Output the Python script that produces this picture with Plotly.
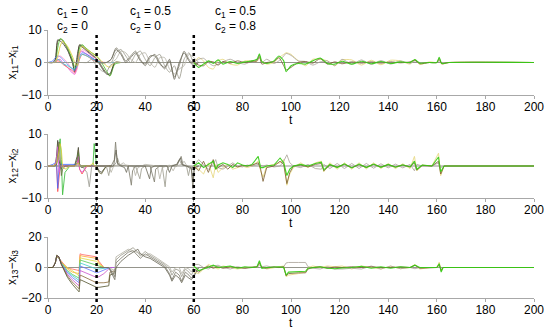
import plotly.graph_objects as go

# ---------------- data ----------------
ZERO_T = [0, 200]
ZERO_Y = [0, 0]

# panel 1 : x11 - xi1
P1A_T = [0, 2, 3, 4, 5, 6, 8, 10, 11, 12, 13, 14, 16, 18, 20, 22, 24, 25.5, 27.5, 30]
P1A_Y = [
    [0, 0, 0.5, 6.5, 7.2, 6.8, 4.2, 0.5, -2.5, 0.5, 5.5, 5.2, 3.8, 2.5, 1.3, -1, -3.2, -4, 0, 0],
    [0, 0, 0.3, 4.5, 7.3, 7, 4.6, 1, -1.5, -0.5, 4.5, 5.5, 4.2, 3, 2, 0, -2.5, -4.2, -0.5, 0],
    [0, 0, 1, 7, 6.6, 6, 3.8, 0, -3, 2, 5.3, 4.8, 3.5, 2.2, 1, -1.5, -3.5, -3.5, 0, 0],
    [0, 0, 0.2, 0.8, 1, 0, -1.5, -3.2, -3.6, -1, 3, 3.5, 2.5, 1.5, 0.5, 0, 0, 0, 0, 0],
    [0, 0.5, 1.5, 2, 1.8, 1, -0.5, -2, -2.5, -1, 2, 3, 2.5, 1.5, 0.5, 0, 0, 0, 0, 0],
    [0, 0, 0.2, 0.5, 0.3, -0.5, -1.5, -2.5, -3, -1.5, 1, 2.5, 2, 1, 0.3, 0, 0, 0, 0, 0],
    [0, 0, 0.5, 1.5, 2, 1.5, 0, -2.5, -3.7, -2, 2.5, 4, 3.2, 2, 1, 0.2, 0, 0, 0, 0],
    [0, 0, 0.3, 1, 0.5, -0.3, -1, -1.8, -2, -1, 1.5, 2.5, 2, 1.2, 0.5, 0, 0, 0, 0, 0],
    [0, 0, 0, 2, 5, 6.5, 5, 2, 0, -1, 3, 5, 4, 3, 1.8, 0.5, -1, -1.5, 0, 0],
    [0, 0, 0, 0, 0, 0, 0, 0, 0, 0, 0, 0, 0, 1, -1, -2.5, -3, -1, 0, 0],
]
P1B_T = [20, 24, 26, 28, 30, 32, 34, 36, 38, 40, 42, 44, 46, 48, 50, 52, 54, 56, 58, 60, 62]
P1B_Y = [
    [0, 0, 1, 4.5, 3, 0.5, 2, 3.5, 1, -1, 1.5, 2.5, 0, -2, 0.5, -4.5, -1, 3.5, 1, -0.5, 0],
    [0, 0, 0, 3, 4, 2, 0, 2.5, 3.5, 1, -1, 1.5, 2.5, -1, -3, -1, -5, 1, 3, 0, 0],
    [0, 0, 0, 1, 3.5, 3, 1, 0, 2.5, 3, 0, -1.5, 1.5, 1.5, -2, -3.5, -2, -1, 2.5, 1.5, 0],
    [0, 0, 1, 4, 2.5, 0, 1.5, 3, 0.5, -0.5, 2, 2, -0.5, -1.5, 1, -5.2, 0, 3, 0.5, -1, 0],
]
P1C_T = [60, 62, 64, 66, 68, 70, 72, 75, 78, 81, 84, 86, 87, 88, 90, 93, 95, 97, 98, 100,
         103, 106, 109, 112, 115, 118, 121, 125, 129, 133, 137, 141, 145, 149, 151, 153,
         157, 160, 161, 162, 165, 200]
P1C_Y = [
    [0, 1.5, 0.5, -1.5, -2, 0.5, 1, -0.5, -0.8, 0.5, 0.5, 0.3, 1.5, 0.5, -0.5, 0, 1.5, 2.5, 3, 2.5,
     0.5, -1, 1, 1, 0.5, -1, 0.8, 0.8, -0.8, 0.7, -0.7, 0.7, 0.5, -0.5, 1, -0.6, 0.2, 0, 0.8, -0.5, 0, 0],
    [0, 1, 1.3, 0, -1, -0.5, 0.2, 1, 0, -0.5, 0.5, 0.8, 1.5, 0, 1, -0.3, 0.5, 2, 2.8, 2.2,
     0.5, 0.3, -0.8, 0.2, 0.5, -1, 1, -0.5, 0.8, -0.6, 0.6, -0.5, 0.5, -0.3, 0.5, 0, 0, 0, 0.5, 0, 0, 0],
    [0, -0.8, -1, 0.3, 0.2, -0.8, 0.3, -0.2, 0.5, 0, 0.3, 0.5, 2.2, -0.5, 0, 0.3, 1.5, -1, -2.3, -1.5,
     0, 0.3, -0.2, 1.2, -0.5, 0.2, -0.4, 0.2, -0.2, 0.2, -0.2, 0.2, -0.1, 0.2, 0.7, -0.4, 0, 0, 1.2, -0.4, 0, 0],
    [0, -1.5, -0.5, 0.5, -0.3, 0.8, -0.5, 0.3, -0.3, 0.2, 0.5, 1, 2.7, 0.3, -0.3, 0.5, 2, 0.5, -2.8, -1,
     -0.3, -0.5, 0.5, 1.4, -0.3, -0.5, 0.4, -0.5, 0.4, -0.4, 0.3, -0.3, 0.2, 0, 0.9, -0.2, 0, 0, 1.6, -0.3, 0, 0],
]

# panel 2 : x12 - xi2
P2A_T = [0, 2, 3, 3.5, 4, 4.5, 5, 5.5, 6, 7, 9, 11, 12, 12.5, 13, 14, 16, 17, 18, 18.5, 19, 20, 21, 22, 24, 26]
P2A_Y = [
    [0, 0, 0.5, 3, 8, 2, 0, -1, 0, 0, 0, 0.3, 3, 5.8, 0, -0.5, 0, 0, 0, 0, 0, 0, -1.5, -2, 0, 0],
    [0, 0, 0, 1, 3, 6, 8.5, 2, -9, -2, 0, 0, 1, 4, 0, 0, 0, 0, 0, 0, 7, 0, 0, 0, 0, 0],
    [0, 0, 0.5, 1, -8, -3, 0, 0, 0, 0, 0, 0, 0.5, 2, -1, -2.5, 0, 0, 0, 0, 0, 0, 0, 0, 0, 0],
    [0, 0.5, 1, 1, -7, -1, 0.5, 0.5, 0.5, 0.5, 0.5, 0.5, 0.5, 1, 0.3, 0, 0, 0, 0, 0, 0, 0, 0, 0, 0, 0],
    [0, 0, 0.5, 2, 6, -2, -1, 0, 0, 0, 0, 0, 0.5, 3, -1, -2, 0, 0, 0, 0, 0, 0, 0, 0, 0, 0],
    [0, 0, 0, 0.5, 2, 7.5, 3, -3, -1, 0, 0, 0, 2, 5, 0.5, 0, 0, 0, 0, 0, 0, 0, -2, -2.5, 0, 0],
    [0, 0, 0.5, 1, 2, 5, 7, 5, 0, -1, 0, 0, 0.5, 1, 0, 0, 0, 0, 0.5, 1, 0, 0, 0, 0, 0, 0],
    [0, 0, 0, 0, 0, 0, 0, 0, 0, 0, 0, 0, 0, 0, 0, 0, -2, -6.5, 0, 0, 0, 0, 0, 0, 0, 0],
]
P2B_T = [
    [20, 26, 27.3, 27.8, 28.5, 30, 33, 34.3, 34.8, 36, 42, 43.8, 44.3, 46, 53, 54.8, 55.5, 57, 59, 59.6, 60.2, 62],
    [20, 24, 25, 25.6, 27, 28, 28.6, 29.5, 36, 37.8, 38.5, 40, 47, 48.2, 48.8, 50, 53, 54, 55, 57, 57.8, 58.5, 60, 62],
    [20, 25, 26, 27, 30, 31, 32, 35, 36, 37, 40, 45, 46, 47, 50, 51.5, 52.5, 55, 56, 57, 60, 62],
    [20, 27, 28, 28.7, 30, 31.5, 32.3, 33, 40, 41.8, 42.5, 44, 49, 50, 51, 53, 54.5, 55.3, 57, 59, 59.6, 60.2, 62],
]
P2B_Y = [
    [0, 0, 2, 7.5, 1, 0.2, 0, -6, -1.5, 0, 0, -5, -1, 0, 0, 3, 0.5, 0, -1, -7, -1, 0],
    [0, 0, -3, -0.5, 0, 1, 2.5, 0.3, 0, -4, -0.8, 0, 0, -6.5, -1.5, 0, 0.5, 2, 0.5, 0, -3, -0.5, 0, 0],
    [0, 0, -2, 0, 0.5, 1, 0.3, 0, -3, -0.5, 0.5, 0, -4, -0.5, 0.3, -1.5, 0, 0.5, 1.5, 0.2, -0.5, 0],
    [0, 0, 5, 0.5, 0, -0.5, -2, 0, 0, -4, -0.5, 0, 0, -2, 0, 0.5, 2.5, 0.3, 0, -0.5, -5, -0.5, 0],
]
P2C_T = [60, 62, 64, 66, 68, 69, 70, 72, 74, 76, 78, 80, 82, 84, 86.5, 87.5, 88.5, 90, 93, 95.5,
         97, 98.3, 99.5, 101, 104, 107, 110, 112.5, 113.5, 116, 119, 122, 125, 128, 131, 134, 137,
         140, 143, 146, 149, 150.8, 151.8, 154, 158, 160.7, 161.6, 163, 165, 200]
P2C_Y = [
    [0, -1, -2.5, 1, -3.7, 0.5, -2, -0.5, 0.5, -1, -0.5, 0, -0.5, 0, 1.5, -1.5, -3.5, 0, 0.5, 1,
     2, -6, -2.5, -0.5, 1, -0.5, 1, 1.5, -1.8, 1, -1, 1, -1, 1, -0.9, 1, -0.8, 0.8, -0.8, 0.7,
     -0.8, 3, -1.5, 0.3, 0, 4, -3, 0, 0, 0],
    [0, 2, 0.5, -1, 0.5, 2, -0.5, -1, 0, 1, 0, -0.3, 0.3, 0, 0.5, 0.3, 0, 0.3, -0.3, 0,
     1.5, 3.5, 1, 0, -0.5, 0.5, -0.8, -1, 0.5, -0.8, 0.8, -0.8, 0.8, -0.8, 0.8, -0.7, 0.7, -0.6, 0.6, -0.6,
     0.5, -1.5, 0.5, 0, 0, 1, -0.5, 0, 0, 0],
    [0, -1.5, 1.5, -2, 2, -1, -0.5, 0.5, -1, 0.5, -0.3, 0.2, 0, 0.3, 1, -1, -4.8, -0.5, 0, 1.5,
     0.5, -5.5, -2, 0, 0.3, -0.3, 0.5, 0.8, -1.5, 0.3, -0.3, 0.5, -0.5, 0.4, -0.4, 0.5, -0.3, 0.4, -0.3, 0.3,
     -0.3, 1, -1.3, 0.2, 0, 1.5, -2.5, 0, 0, 0],
    [0, 1, -0.5, 0.5, 1.5, -1, 0.3, 1, 0.5, -0.5, 1, 0.3, 0, 0.5, 3, -0.5, -0.5, 0, 0.3, 2.5,
     1, -3, -1, 0, 0.5, 0, 0.8, 1.2, -1.2, 0.5, -0.5, 0.7, -0.6, 0.6, -0.5, 0.6, -0.4, 0.5, -0.4, 0.4,
     -0.3, 1.5, -1, 0.3, 0, 2.8, -1.8, 0, 0, 0],
]

# panel 3 : x13 - xi3
P3A_T = [0, 2, 3, 3.6, 4.5, 5.5, 8, 10, 12.8, 13.2, 14, 20, 21, 23, 25, 25.5, 27, 28]
P3A_Y = [
    [0, 0, 3, 7, 6, 4, -0.5, -1, -2, 9, 8.5, 7, 4, 0, 0, 0, 0, 0],
    [0, 0, 3, 7, 6, 3.5, -1, -3, -4, 8, 7.5, 6, 3, 0, 0, 0, 0, 0],
    [0, 0, 3, 7, 6, 3, 0, -2, -5.5, 6.5, 6, 4, 2, 0, 0, 0, 0, 0],
    [0, 0, 3, 7.5, 6, 3, -2, -4.5, -7, 5, 4.5, 1.5, 0.5, 0, 0, 0, 0, 0],
    [0, 0, 3, 7.5, 6.5, 2.5, -3, -5.5, -8.5, 3, 2.5, -1, -1, -0.5, 0, 0, 0, 0],
    [0, 0, 3, 7.5, 6.5, 2.5, -3.5, -6.5, -10, 1, 0.5, -3.5, -3, -1.5, 0, 0, 0, 0],
    [0, 0, 3, 7.5, 6.5, 2, -4.5, -8, -12, -2, -2.5, -6.5, -6, -4, -1, 0, 0, 0],
    [0, 0, 3, 8, 7, 2, -5.5, -9.5, -14, -5, -5.5, -10, -10, -10, -9.5, -3, -2.5, 0],
    [0, 0, 3, 8, 7, 2, -6.5, -11, -16, -8, -8.5, -13, -13, -12.5, -12, -5, -4, 0],
]
P3B_T = [20, 25, 27.5, 28, 30, 33, 35, 37, 38, 40, 42, 45, 48, 50, 51, 52.5, 54, 55, 56.5, 58, 59, 60, 62]
P3B_Y = [
    [0, 0, -6, 3, 6, 10, 11, 8, 6, 9, 7, 4, 1, -4, -8, -3, -5, -9, -3, -5, -7, -5, 0],
    [0, 0, -4, 5, 8, 11, 13, 10, 7.5, 10.5, 8, 5, 2, -1, -5, -1, -2, -6, -1, -3, -5, -2, 0],
    [0, 0, -2, 7, 9, 12, 11, 9.5, 9, 8, 9, 6, 3, 0.5, -3, 0, 0, -4, 0, -1, -3, 0, 0],
    [0, 0, -8, 0, 4, 8, 10, 12, 9, 7, 6, 3, 0, -5, -9, -5, -7, -10, -5, -7, -8, -6, 0],
]
P3C_T = [60, 62, 64, 66, 68, 70, 72, 75, 78, 81, 84, 86, 87, 88, 90, 93, 95, 97, 98, 99,
         103, 106, 107, 109, 112, 115, 118, 121, 125, 129, 133, 137, 141, 145, 149, 151, 153,
         157, 160, 161, 161.8, 162.6, 200]
P3C_Y = [
    [-3, -4, -1, 2, 0.5, -1, 1, 0, -1, 0, 0.5, 0.5, 2, 0.5, -1, 0, 0.5, 1, -6, -5,
     -4, -3, 0, 1, 0, 1, 0.5, 1, -1, 1, 0, -1, 0.8, -0.8, 0, 2, -1, 0, 0, 3.5, -2, 0, 0],
    [2, 2, 0, -1, 1, 1.5, 0, -1, 0.5, -0.5, 0.5, 0, 1.5, 0.5, 1, 0, 0, 0.5, 3, 3.3,
     3.3, 3.3, 0.5, -0.5, -1, 0.5, -1, -1, -0.5, -1, 1, -1, 1, -0.8, 0, -0.8, 0, 0, 0, 0.5, -0.5, 0, 0],
    [-1, -3, -0.5, 1, -0.5, 0.5, -0.5, 0.5, 0, -0.5, 0, 0.5, 3, 0, -0.5, 0.5, 0, 0.5, -5.5, -4,
     -3.5, -3.5, -1, 0, 0.5, -0.5, 0.3, 0, 0.5, 0, 0.5, 0, 0, 0.3, 0, 1.5, -0.5, 0, 0, 2, -2, 0, 0],
    [1, -2, -1, 0.5, 1.5, 0, 0.5, 1, -0.5, 0.5, 0, 0.5, 4.5, -0.5, 0, 0.5, 0.5, 0, -5, -3,
     -2.5, -2.5, -0.5, 0, 0.5, -0.5, -0.8, -0.3, 0, 0.8, -0.5, 0.5, -0.5, 0.5, 0, 1.5, 0, 0, 0, 2.5, -3, 0, 0],
]

Y_TITLES = ["x<sub>11</sub>−x<sub>i1</sub>", "x<sub>12</sub>−x<sub>i2</sub>", "x<sub>13</sub>−x<sub>i3</sub>"]
X_TITLE = "t"
Y_RANGES = [[-10, 10], [-10, 10], [-20, 20]]
Y_TICKS = [[-10, 0, 10], [-10, 0, 10], [-20, 0, 20]]
X_TICKS = list(range(0, 201, 20))
SWITCH_T = [20, 60]
C_LABELS = [("c<sub>1</sub> = 0", "c<sub>2</sub> = 0", 3),
            ("c<sub>1</sub> = 0.5", "c<sub>2</sub> = 0", 33),
            ("c<sub>1</sub> = 0.5", "c<sub>2</sub> = 0.8", 68)]

# ---------------- styling ----------------
A_COLORS_1 = ['#5c5a2e', '#44bb22', '#3a3a28', '#dd44dd', '#5577ff', '#ff5555', '#ff99cc', '#33cccc', '#ddcc33', '#9a9a90']
A_COLORS_2 = ['#3d3d28', '#33bb33', '#ff4444', '#4466ff', '#dd55dd', '#6b6a40', '#ddcc33', '#9a9a90']
A_COLORS_3 = ['#ff6666', '#ffaa33', '#dddd44', '#55cc55', '#44cccc', '#6677ff', '#cc55cc', '#8a6a3a', '#55552e']
B_COLORS = ['#7d7b6b', '#9a988a', '#b3b1a5', '#6a6858']
C_COLORS = ['#e6d77a', '#aaa499', '#7a5c30', '#33cc11']
SHAPES = ['spline', 'linear', 'linear']

FONT = "Liberation Sans, Arial, sans-serif"
H = 328.0
DOMAINS = [[1 - 95 / H, 1 - 30 / H], [1 - 198 / H, 1 - 134 / H], [1 - 298 / H, 1 - 237 / H]]
T_LABEL_Y = [120, 223, 323]

fig = go.Figure()


def add(i, t, y, color, w=0.9, op=0.9):
    line = dict(color=color, width=w, shape=SHAPES[i])
    if SHAPES[i] == 'spline':
        line['smoothing'] = 0.6
    fig.add_trace(go.Scatter(
        x=t, y=y, mode='lines', line=line, opacity=op,
        xaxis='x' if i == 0 else f'x{i+1}', yaxis='y' if i == 0 else f'y{i+1}',
        showlegend=False, hoverinfo='skip'))


panels = [
    (P1A_T, P1A_Y, A_COLORS_1, P1B_T, P1B_Y, P1C_T, P1C_Y),
    (P2A_T, P2A_Y, A_COLORS_2, P2B_T, P2B_Y, P2C_T, P2C_Y),
    (P3A_T, P3A_Y, A_COLORS_3, P3B_T, P3B_Y, P3C_T, P3C_Y),
]
for i, (at, ay, ac, bt, by, ct, cy) in enumerate(panels):
    add(i, ZERO_T, ZERO_Y, '#8a8a80', 1)
    for k, ys in enumerate(ay):
        add(i, at, ys, ac[k])
    for k, ys in enumerate(by):
        tt = bt[k] if isinstance(bt[0], list) else bt
        add(i, tt, ys, B_COLORS[k])
    for k, ys in enumerate(cy):
        add(i, ct, ys, C_COLORS[k], 1.1 if k == 3 else 0.9)

layout = dict(width=550, height=328, margin=dict(l=48, r=16, t=0, b=0, autoexpand=False),
              plot_bgcolor='white', paper_bgcolor='white',
              font=dict(family=FONT, size=12, color='black'))
for i in range(3):
    sx = '' if i == 0 else str(i + 1)
    layout['xaxis' + sx] = dict(
        domain=[0, 1], anchor='y' + sx, range=[0, 200], tickvals=X_TICKS, automargin=False,
        showline=True, linecolor='#a8a8a8', linewidth=1, ticks='outside', ticklen=3,
        tickcolor='#a8a8a8', showgrid=False, zeroline=False, ticklabelstandoff=-2,
        tickfont=dict(size=12, color='black'))
    layout['yaxis' + sx] = dict(
        domain=DOMAINS[i], anchor='x' + sx, range=Y_RANGES[i], tickvals=Y_TICKS[i], automargin=False,
        showline=True, linecolor='#a8a8a8', linewidth=1, ticks='outside', ticklen=3,
        tickcolor='#a8a8a8', showgrid=False, zeroline=False,
        tickfont=dict(size=12, color='black'),
        title=dict(text=Y_TITLES[i], standoff=2, font=dict(size=12, color='black')))
fig.update_layout(**layout)

for t in SWITCH_T:
    fig.add_shape(type='line', xref='x', yref='paper', x0=t, x1=t,
                  y0=1 - 302 / H, y1=1 - 32 / H,
                  line=dict(color='black', width=2.5, dash='dot'))

for l1, l2, tx in C_LABELS:
    fig.add_annotation(x=tx, y=1 - 12 / H, xref='x', yref='paper', text=l1, showarrow=False,
                       xanchor='left', yanchor='middle', font=dict(size=12, color='black'))
    fig.add_annotation(x=tx, y=1 - 27 / H, xref='x', yref='paper', text=l2, showarrow=False,
                       xanchor='left', yanchor='middle', font=dict(size=12, color='black'))

for yp in T_LABEL_Y:
    fig.add_annotation(x=0.5, y=1 - yp / H, xref='paper', yref='paper', text=X_TITLE,
                       showarrow=False, xanchor='center', yanchor='middle',
                       font=dict(size=12, color='black'))

fig.write_html("out.html", config={'displayModeBar': False},
               post_script="document.body.style.margin='0px';")
